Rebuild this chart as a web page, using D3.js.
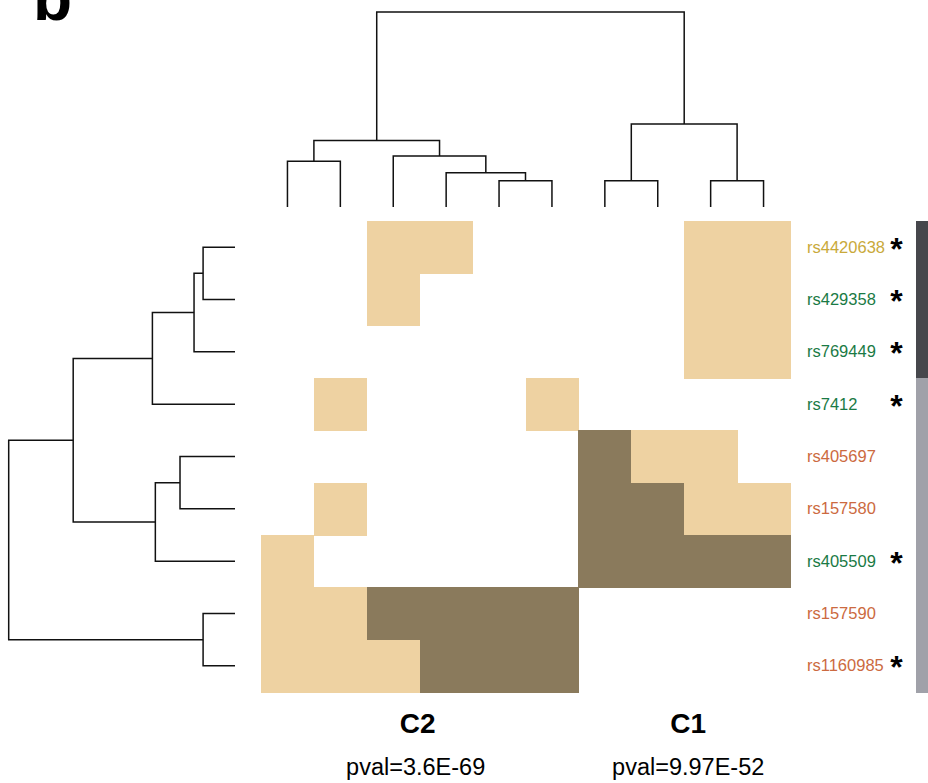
<!DOCTYPE html>
<html>
<head>
<meta charset="utf-8">
<script src="https://cdn.jsdelivr.net/npm/d3@7.9.0/dist/d3.min.js"></script>
<style>
  html, body { margin: 0; padding: 0; background: #fff; }
  svg { display: block; font-family: 'Liberation Sans', Arial, sans-serif; }
</style>
</head>
<body>
<div id="chart"></div>
<script>
// column ids (samples) and row ids (SNPs)
const cols = d3.range(10);
const rows = ['rs4420638', 'rs429358', 'rs769449', 'rs7412', 'rs405697',
              'rs157580', 'rs405509', 'rs157590', 'rs1160985'];

// 0 = none, 1 = light, 2 = dark
const cells = [
  [0, 0, 1, 1, 0, 0, 0, 0, 1, 1],
  [0, 0, 1, 0, 0, 0, 0, 0, 1, 1],
  [0, 0, 0, 0, 0, 0, 0, 0, 1, 1],
  [0, 1, 0, 0, 0, 1, 0, 0, 0, 0],
  [0, 0, 0, 0, 0, 0, 2, 1, 1, 0],
  [0, 1, 0, 0, 0, 0, 2, 2, 1, 1],
  [1, 0, 0, 0, 0, 0, 2, 2, 2, 2],
  [1, 1, 2, 2, 2, 2, 0, 0, 0, 0],
  [1, 1, 1, 2, 2, 2, 0, 0, 0, 0],
];

const labelType = ['gold', 'green', 'green', 'green', 'orange', 'orange', 'green', 'orange', 'orange'];
const starred = [true, true, true, true, false, false, true, false, true];
const rowGroup = ['a', 'a', 'a', 'b', 'b', 'b', 'b', 'b', 'b'];

// linkage: [left, right, height], new node ids continue after the leaves
const colLinkage = [
  [4, 5, 0.135],
  [6, 7, 0.135],
  [8, 9, 0.135],
  [3, 10, 0.176],
  [0, 1, 0.234],
  [2, 13, 0.261],
  [14, 15, 0.341],
  [11, 12, 0.426],
  [16, 17, 1.0],
];
const rowLinkage = [
  [0, 1, 0.141],
  [7, 8, 0.141],
  [9, 2, 0.181],
  [4, 5, 0.243],
  [12, 6, 0.352],
  [11, 3, 0.365],
  [14, 13, 0.715],
  [15, 10, 1.0],
];

const clusterNames = ['C2', 'C1'];
const clusterPvals = ['3.6E-69', '9.97E-52'];
const clusterCols = [[0, 5], [6, 9]];

const width = 928;
const height = 783;

const cellColor = d3.scaleOrdinal().domain([0, 1, 2]).range(['#ffffff', '#eed2a2', '#8a7a5c']);
const textColor = d3.scaleOrdinal().domain(['gold', 'green', 'orange']).range(['#c9a93a', '#1a7a45', '#cc6a40']);
const groupColor = d3.scaleOrdinal().domain(['a', 'b']).range(['#46474c', '#a0a1a9']);

const svg = d3.select('#chart').append('svg')
  .attr('width', width)
  .attr('height', height);

const x = d3.scaleBand().domain(cols).range([261, 790]);
const y = d3.scaleBand().domain(d3.range(rows.length)).range([221, 692]);

// heatmap
const cellData = cells.flatMap((r, i) => r.map((v, j) => ({ i, j, v })));
svg.append('g')
  .attr('shape-rendering', 'crispEdges')
  .selectAll('rect')
  .data(cellData.filter(d => d.v > 0))
  .join('rect')
  .attr('x', d => x(d.j))
  .attr('y', d => y(d.i))
  .attr('width', x.bandwidth() + 0.5)
  .attr('height', y.bandwidth() + 0.5)
  .attr('fill', d => cellColor(d.v));

// dendrograms
function elbows(linkage, nLeaves, leafPos) {
  const pos = d3.range(nLeaves).map(leafPos);
  const h = d3.range(nLeaves).map(() => 0);
  const segs = [];
  linkage.forEach(([a, b, ht]) => {
    segs.push({ p0: pos[a], h0: h[a], p1: pos[b], h1: h[b], h: ht });
    pos.push((pos[a] + pos[b]) / 2);
    h.push(ht);
  });
  return segs;
}

const topH = d3.scaleLinear().domain([0, 1]).range([207, 12]);
const colSegs = elbows(colLinkage, cols.length, i => x(i) + x.bandwidth() / 2);
svg.append('g')
  .attr('fill', 'none')
  .attr('stroke', '#111')
  .attr('stroke-width', 1.5)
  .selectAll('path')
  .data(colSegs)
  .join('path')
  .attr('d', d => `M${d.p0},${topH(d.h0)}V${topH(d.h)}H${d.p1}V${topH(d.h1)}`);

const leftH = d3.scaleLinear().domain([0, 1]).range([235, 8.7]);
const rowSegs = elbows(rowLinkage, rows.length, i => y(i) + y.bandwidth() / 2);
svg.append('g')
  .attr('fill', 'none')
  .attr('stroke', '#111')
  .attr('stroke-width', 1.5)
  .selectAll('path')
  .data(rowSegs)
  .join('path')
  .attr('d', d => `M${leftH(d.h0)},${d.p0}H${leftH(d.h)}V${d.p1}H${leftH(d.h1)}`);

// row labels
const labels = svg.append('g');
labels.selectAll('text.name')
  .data(rows)
  .join('text')
  .attr('class', 'name')
  .attr('x', 807)
  .attr('y', (d, i) => y(i) + y.bandwidth() / 2 + 5.5)
  .attr('font-size', 16.5)
  .attr('fill', (d, i) => textColor(labelType[i]))
  .text(d => d);

labels.selectAll('text.star')
  .data(rows.map((d, i) => i).filter(i => starred[i]))
  .join('text')
  .attr('class', 'star')
  .attr('x', 896.5)
  .attr('y', i => y(i) + y.bandwidth() / 2 + 12.5)
  .attr('text-anchor', 'middle')
  .attr('font-size', 32)
  .attr('font-weight', 'bold')
  .attr('fill', '#000')
  .text('*');

// side bar
svg.append('g')
  .attr('shape-rendering', 'crispEdges')
  .selectAll('rect')
  .data(rowGroup)
  .join('rect')
  .attr('x', 916)
  .attr('y', (d, i) => y(i))
  .attr('width', 12)
  .attr('height', y.bandwidth() + 0.5)
  .attr('fill', d => groupColor(d));

// cluster labels
const cl = svg.append('g').attr('text-anchor', 'middle').attr('fill', '#000');
clusterNames.forEach((name, k) => {
  const [c0, c1] = clusterCols[k];
  const cx = (x(c0) + x(c1) + x.bandwidth()) / 2;
  cl.append('text')
    .attr('x', cx - 2 + 6 * k)
    .attr('y', 733)
    .attr('font-size', 28)
    .attr('font-weight', 'bold')
    .text(name);
  cl.append('text')
    .attr('x', cx - 4 + 8 * k)
    .attr('y', 775)
    .attr('font-size', 23.5)
    .text('pval=' + clusterPvals[k]);
});

// panel letter (cut off at the top, as in the original panel)
svg.append('text')
  .attr('x', 33)
  .attr('y', 20)
  .attr('font-size', 64)
  .attr('font-weight', 'bold')
  .text('b');
</script>
</body>
</html>
